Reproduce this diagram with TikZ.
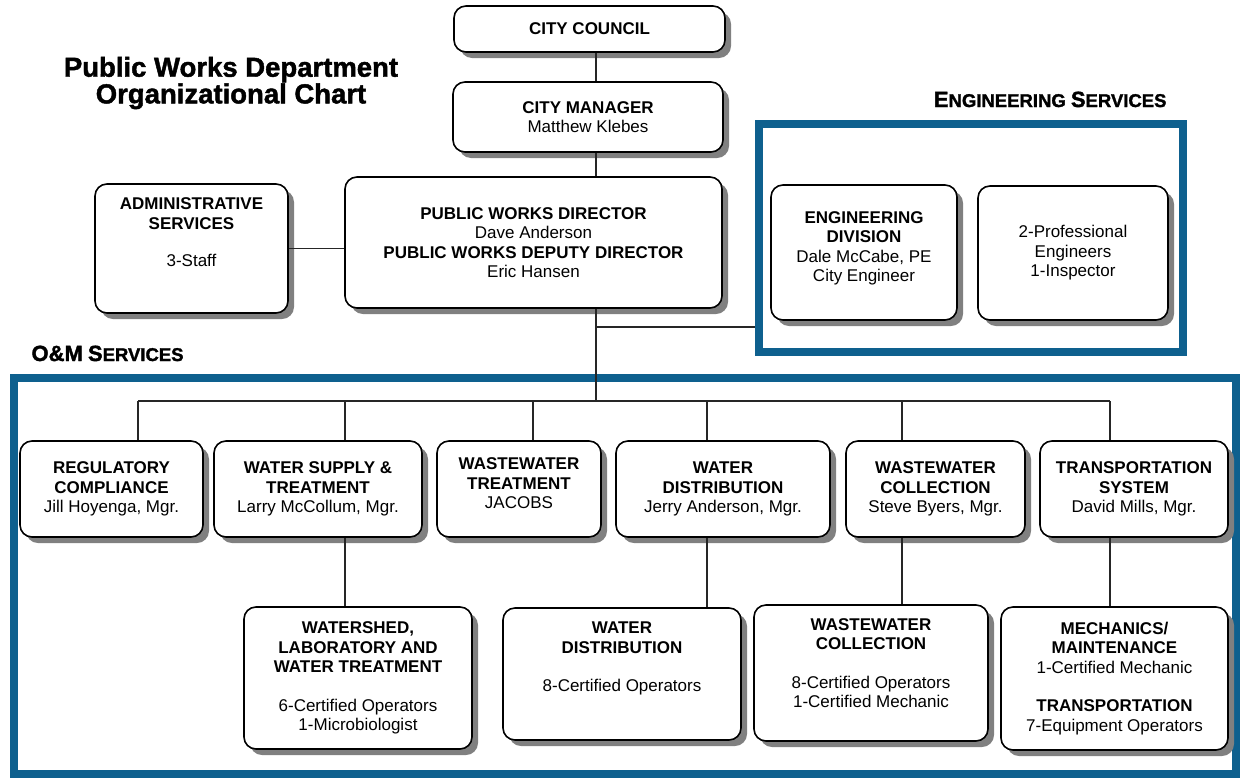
\documentclass[tikz,border=0pt]{standalone}
\usepackage{fontspec}
\setmainfont{Liberation Sans}
\newfontfamily\heavyfont[FakeBold=1.6]{Liberation Sans Bold}
\usetikzlibrary{shadows}
\definecolor{frameblue}{RGB}{14,96,142}
\newcommand\boxfont{\fontsize{17}{19.5}\selectfont}
\newcommand\bigsc[2]{{\fontsize{22}{24}\selectfont #1}{\fontsize{18.5}{24}\selectfont #2}}

\begin{document}
\begin{tikzpicture}[x=1pt,y=-1pt,
	unit/.style={draw,line width=1.6pt,rounded corners=12pt,fill=white,align=center,font=\boxfont,
		drop shadow={shadow xshift=6pt,shadow yshift=-6pt,fill=black!50,opacity=1}},
	section/.style={draw=frameblue,line width=8pt,inner sep=0pt},
	link/.style={draw=black!85,line width=1.2pt},
	heading/.style={font=\heavyfont\fontsize{18.5}{24}\selectfont}]
	
	\useasboundingbox (0,0) rectangle (1243,780);
	\fill[white] (0,0) rectangle (1243,780);
	
	% frames and headings
	\node[section,minimum width=1222pt,minimum height=396pt] (omframe) at (625,576) {};
	\node[section,minimum width=424pt,minimum height=228pt] (engframe) at (971,238) {};
	\node[font=\heavyfont\fontsize{27.5}{25.5}\selectfont,align=center] (title) at (231,83) {Public Works Department\\Organizational Chart};
	\node[heading,anchor=base east] (englabel) at (1170,107) {\bigsc{E}{NGINEERING} \bigsc{S}{ERVICES}};
	\node[heading,anchor=base west] (omlabel) at (28,361) {{\fontsize{22}{24}\selectfont O\&M} \bigsc{S}{ERVICES}};
	
	% top of the chart
	\node[unit,minimum width=271pt,minimum height=46pt] (council) at (589.5,29) {\textbf{CITY COUNCIL}};
	\node[unit,minimum width=270pt,minimum height=70pt] (manager) at (588,117) {\textbf{CITY MANAGER}\\Matthew Klebes};
	\node[unit,minimum width=377pt,minimum height=131pt] (director) at (533.5,242.5) {\textbf{PUBLIC WORKS DIRECTOR}\\Dave Anderson\\\textbf{PUBLIC WORKS DEPUTY DIRECTOR}\\Eric Hansen};
	\node[unit,minimum width=193pt,minimum height=129pt] (admin) at (191.5,248.5) {\textbf{ADMINISTRATIVE}\\\textbf{SERVICES}\\[18pt]3-Staff\\[12.5pt]\mbox{}};
	
	% engineering services
	\node[unit,minimum width=186pt,minimum height=135pt] (engdiv) at (864,252.5) {\textbf{ENGINEERING}\\\textbf{DIVISION}\\Dale McCabe, PE\\City Engineer\\[-8pt]\mbox{}};
	\node[unit,minimum width=190pt,minimum height=134pt] (engstaff) at (1073,253) {2-Professional\\Engineers\\1-Inspector};
	
	% o&m services, managers
	\node[unit,minimum width=183pt,minimum height=96pt] (reg) at (111.5,489) {\textbf{REGULATORY}\\\textbf{COMPLIANCE}\\Jill Hoyenga, Mgr.};
	\node[unit,minimum width=208pt,minimum height=96pt] (wst) at (318,489) {\textbf{WATER SUPPLY \&}\\\textbf{TREATMENT}\\Larry McCollum, Mgr.};
	\node[unit,minimum width=164pt,minimum height=96pt] (wwt) at (519,489) {\textbf{WASTEWATER}\\\textbf{TREATMENT}\\JACOBS\\[-8pt]\mbox{}};
	\node[unit,minimum width=214pt,minimum height=96pt] (wd) at (723,489) {\textbf{WATER}\\\textbf{DISTRIBUTION}\\Jerry Anderson, Mgr.};
	\node[unit,minimum width=179pt,minimum height=96pt] (wwc) at (935.5,489) {\textbf{WASTEWATER}\\\textbf{COLLECTION}\\Steve Byers, Mgr.};
	\node[unit,minimum width=188pt,minimum height=96pt] (ts) at (1134,489) {\textbf{TRANSPORTATION}\\\textbf{SYSTEM}\\David Mills, Mgr.};
	
	% o&m services, staff
	\node[unit,minimum width=228pt,minimum height=142pt] (lab) at (358,678) {\textbf{WATERSHED,}\\\textbf{LABORATORY AND}\\\textbf{WATER TREATMENT}\\[19pt]6-Certified Operators\\1-Microbiologist};
	\node[unit,minimum width=238pt,minimum height=132pt] (wdops) at (622,674) {\textbf{WATER}\\\textbf{DISTRIBUTION}\\[19pt]8-Certified Operators\\[14.5pt]\mbox{}};
	\node[unit,minimum width=234pt,minimum height=136pt] (wwcops) at (871,673) {\textbf{WASTEWATER}\\\textbf{COLLECTION}\\[19pt]8-Certified Operators\\1-Certified Mechanic\\\mbox{}};
	\node[unit,minimum width=227pt,minimum height=143pt] (mech) at (1114.5,678.5) {\textbf{MECHANICS/}\\\textbf{MAINTENANCE}\\1-Certified Mechanic\\[19pt]\textbf{TRANSPORTATION}\\7-Equipment Operators};
	
	% connectors
	\coordinate (spine) at (596,0);
	\coordinate (bus) at (0,401);
	\coordinate (engtap) at (596,327);
	\draw[link] (council.south -| spine) -- (manager.north -| spine);
	\draw[link] (manager.south -| spine) -- (director.north -| spine);
	\draw[link] (director.south -| spine) -- (spine |- bus);
	\draw[link] (engtap) -- (engframe.west |- engtap);
	\draw[link] (admin.east) -- (director.west |- admin.east);
	\draw[link] (138,401) -- (1110,401);
	\foreach \n/\x in {reg/138,wst/345,wwt/533,wd/707,wwc/902,ts/1110} {
		\draw[link] (\x,401) -- (\x,0 |- \n.north);
	}
	\foreach \n/\m/\x in {wst/lab/345,wd/wdops/707,wwc/wwcops/902,ts/mech/1110} {
		\draw[link] (\x,0 |- \n.south) -- (\x,0 |- \m.north);
	}
\end{tikzpicture}
\end{document}
